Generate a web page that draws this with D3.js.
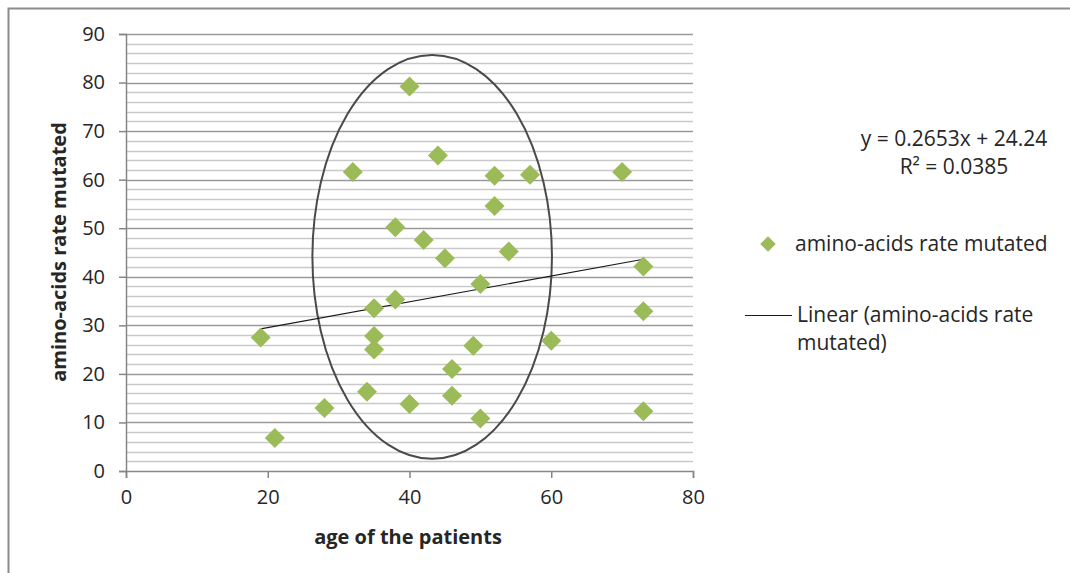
<!DOCTYPE html>
<html>
<head>
<meta charset="utf-8">
<script src="https://d3js.org/d3.v7.min.js"></script>
<style>
  body { margin: 0; background: #fff; }
  text { font-family: "Open Sans", "Noto Sans", sans-serif; fill: #262626; }
</style>
</head>
<body>
<svg id="chart" width="1070" height="573"></svg>
<script>
// patient ages and mutated amino-acid rates
var ages  = [19, 21, 28, 32, 34, 35, 35, 35, 38, 38, 40, 40, 42, 44, 45, 46, 46, 49, 50, 50, 52, 52, 54, 57, 60, 70, 73, 73, 73];
var rates = [27.5, 6.8, 13.0, 61.6, 16.3, 33.5, 27.8, 25.0, 35.3, 50.2, 79.2, 13.8, 47.6, 65.0, 43.8, 21.0, 15.5, 25.8, 38.5, 10.8, 60.8, 54.6, 45.2, 61.0, 26.8, 61.6, 42.1, 32.9, 12.3];
var xTicks = [0, 20, 40, 60, 80];
var yTicks = [0, 10, 20, 30, 40, 50, 60, 70, 80, 90];
var trendSlope = 0.2653, trendIntercept = 24.24;
var eqLabel = "y = 0.2653x + 24.24";
var r2Label = "R² = 0.0385";
// hand-drawn ellipse annotation (data units): centre, radii
var ring = {cx: 43.2, cy: 44.1, rx: 16.9, ry: 41.6};

var svg = d3.select("#chart");

// outer frame
svg.append("rect").attr("x", 8.5).attr("y", 8.5).attr("width", 1080).attr("height", 600)
  .attr("fill", "none").attr("stroke", "#8c8c8c").attr("stroke-width", 2);

var pl = 126, pr = 693, pt = 34, pb = 471;
var x = d3.scaleLinear().domain([0, 80]).range([pl, pr]);
var y = d3.scaleLinear().domain([0, 90]).range([pb, pt]);

// minor gridlines every 2
var minor = d3.range(2, 90, 2).filter(function(v) { return v % 10 !== 0; });
svg.append("g").selectAll("line").data(minor).enter().append("line")
  .attr("x1", pl).attr("x2", pr)
  .attr("y1", function(d) { return Math.round(y(d)) + 0.5; })
  .attr("y2", function(d) { return Math.round(y(d)) + 0.5; })
  .attr("stroke", "#c9c9c9").attr("stroke-width", 1.5);
// major gridlines
svg.append("g").selectAll("line").data(yTicks.slice(1)).enter().append("line")
  .attr("x1", pl).attr("x2", pr)
  .attr("y1", function(d) { return Math.round(y(d)) + 0.5; })
  .attr("y2", function(d) { return Math.round(y(d)) + 0.5; })
  .attr("stroke", "#9a9a9a").attr("stroke-width", 1.5);

// axes
var yAxis = svg.append("g").attr("transform", "translate(" + pl + ",0)")
  .call(d3.axisLeft(y).tickValues(yTicks).tickSize(7).tickPadding(14));
var xAxis = svg.append("g").attr("transform", "translate(0," + pb + ")")
  .call(d3.axisBottom(x).tickValues(xTicks).tickSize(7).tickPadding(12));
[xAxis, yAxis].forEach(function(a) {
  a.select(".domain").attr("stroke", "#868686").attr("stroke-width", 1.5);
  a.selectAll(".tick line").attr("stroke", "#868686").attr("stroke-width", 1.5);
  a.selectAll(".tick text").style("font-size", "20px").attr("fill", "#262626");
});

// ellipse annotation
svg.append("ellipse")
  .attr("cx", x(ring.cx)).attr("cy", y(ring.cy))
  .attr("rx", x(ring.rx) - x(0)).attr("ry", y(0) - y(ring.ry))
  .attr("fill", "none").attr("stroke", "#4a4a4a").attr("stroke-width", 2);

// trend line over data range
var xMin = d3.min(ages), xMax = d3.max(ages);
svg.append("line")
  .attr("x1", x(xMin)).attr("y1", y(trendSlope * xMin + trendIntercept))
  .attr("x2", x(xMax)).attr("y2", y(trendSlope * xMax + trendIntercept))
  .attr("stroke", "#1a1a1a").attr("stroke-width", 1.2);

// points
var diamond = d3.symbol().type(d3.symbolSquare).size(200);
svg.append("g").selectAll("path").data(ages).enter().append("path")
  .attr("d", diamond)
  .attr("transform", function(d, i) { return "translate(" + x(d) + "," + y(rates[i]) + ") rotate(45)"; })
  .attr("fill", "#9bbb59");

// axis titles
svg.append("text").attr("x", 408).attr("y", 544).attr("text-anchor", "middle")
  .style("font-size", "20px").style("font-weight", "bold").text("age of the patients");
svg.append("text").attr("transform", "translate(66,252) rotate(-90)").attr("text-anchor", "middle")
  .style("font-size", "20px").style("font-weight", "bold").text("amino-acids rate mutated");

// equation
svg.append("text").attr("x", 954).attr("y", 146).attr("text-anchor", "middle")
  .style("font-size", "21px").text(eqLabel);
svg.append("text").attr("x", 954).attr("y", 174).attr("text-anchor", "middle")
  .style("font-size", "21px").text(r2Label);

// legend
svg.append("path").attr("d", d3.symbol().type(d3.symbolSquare).size(120))
  .attr("transform", "translate(768,244) rotate(45)").attr("fill", "#9bbb59");
svg.append("text").attr("x", 795).attr("y", 251).style("font-size", "21px").text("amino-acids rate mutated");
svg.append("line").attr("x1", 745).attr("x2", 792).attr("y1", 315.5).attr("y2", 315.5)
  .attr("stroke", "#1a1a1a").attr("stroke-width", 1.2);
svg.append("text").attr("x", 797).attr("y", 322).style("font-size", "21px").text("Linear (amino-acids rate");
svg.append("text").attr("x", 797).attr("y", 350).style("font-size", "21px").text("mutated)");
</script>
</body>
</html>
